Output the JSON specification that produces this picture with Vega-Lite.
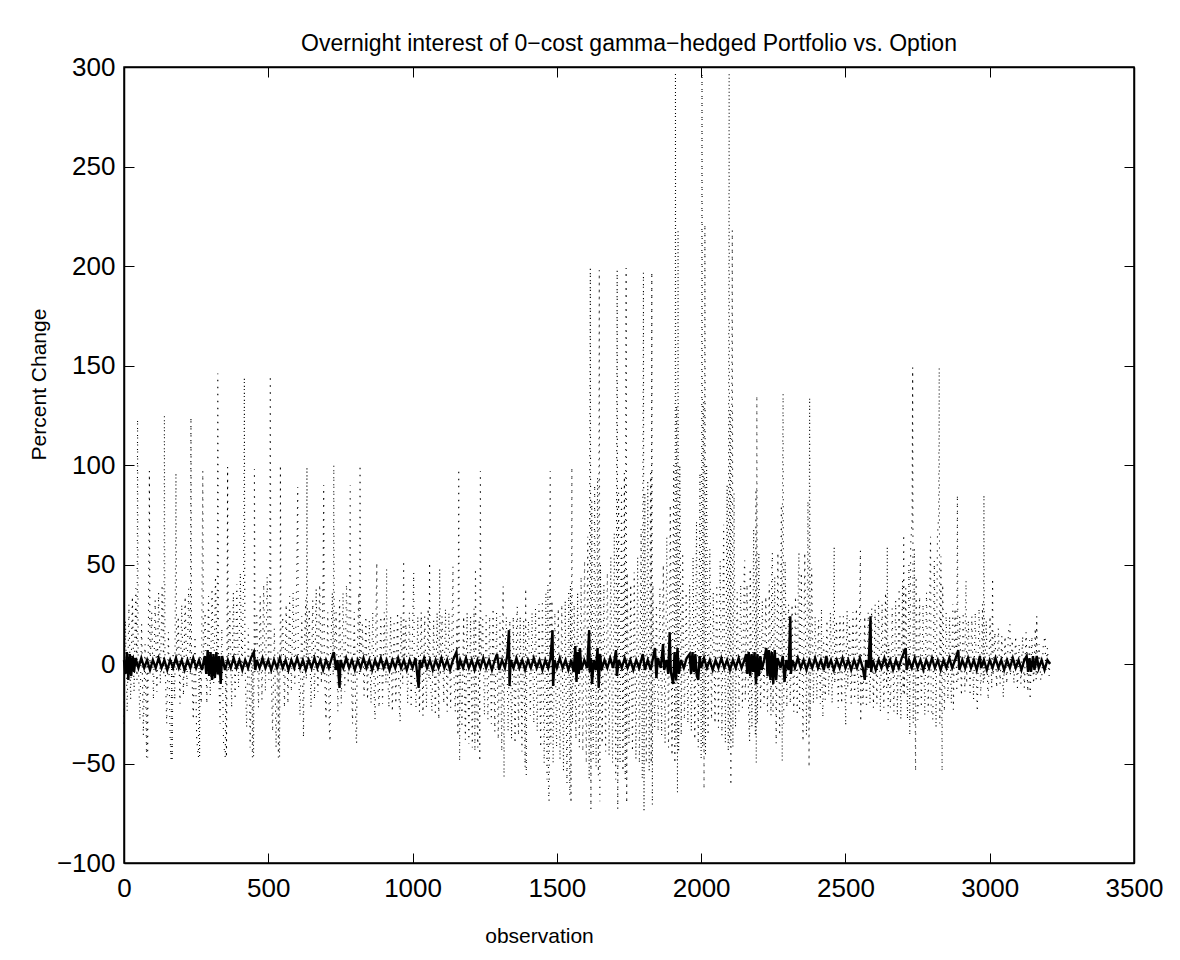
{
"$schema":"https://vega.github.io/schema/vega-lite/v6.json",
"width":1010,"height":796,
"autosize":{"type":"none"},
"padding":{"left":124,"top":67,"right":46,"bottom":97},
"background":"white",
"title":{"text":"Overnight interest of 0−cost gamma−hedged Portfolio vs. Option","font":"Liberation Sans","fontSize":23,"fontWeight":"normal","color":"black","offset":-20,"baseline":"alphabetic"},
"config":{"view":{"stroke":"black","strokeWidth":1.5},"font":"Liberation Sans",
"axis":{"domain":true,"domainColor":"black","domainWidth":1.5,"ticks":true,"tickColor":"black","tickWidth":1,"tickSize":-10,"grid":false,"labelFont":"Liberation Sans","labelFontSize":26,"labelColor":"black","labelOverlap":false,"labelFlush":false,"titleFont":"Liberation Sans","titleFontSize":21,"titleFontWeight":"normal","titleColor":"black"}},
"datasets":{
"option":[
{"obs":0,"pct":-30},{"obs":5,"pct":22},{"obs":11,"pct":-24},{"obs":17,"pct":30},{"obs":23,"pct":-18},{"obs":29,"pct":34},{"obs":35,"pct":-14},{"obs":41,"pct":38},{"obs":45,"pct":-8},{"obs":47,"pct":123},{"obs":49,"pct":4},{"obs":55,"pct":-28},{"obs":61,"pct":20},{"obs":67,"pct":-36},{"obs":73,"pct":10},{"obs":78,"pct":-47},{"obs":80,"pct":2},{"obs":82,"pct":-47},{"obs":84,"pct":6},{"obs":88,"pct":97},{"obs":90,"pct":-4},{"obs":96,"pct":26},{"obs":102,"pct":-18},{"obs":108,"pct":32},{"obs":114,"pct":-14},{"obs":120,"pct":36},{"obs":126,"pct":-10},{"obs":132,"pct":40},{"obs":138,"pct":-6},{"obs":140,"pct":125},{"obs":142,"pct":2},{"obs":148,"pct":-30},{"obs":154,"pct":16},{"obs":160,"pct":-38},{"obs":163,"pct":-48},{"obs":165,"pct":3},{"obs":167,"pct":-48},{"obs":170,"pct":6},{"obs":176,"pct":-18},{"obs":180,"pct":96},{"obs":182,"pct":-3},{"obs":188,"pct":24},{"obs":194,"pct":-20},{"obs":200,"pct":30},{"obs":206,"pct":-16},{"obs":212,"pct":34},{"obs":218,"pct":-12},{"obs":224,"pct":38},{"obs":230,"pct":-6},{"obs":232,"pct":124},{"obs":234,"pct":3},{"obs":240,"pct":-28},{"obs":246,"pct":14},{"obs":252,"pct":-38},{"obs":258,"pct":-47},{"obs":260,"pct":2},{"obs":262,"pct":-47},{"obs":264,"pct":5},{"obs":268,"pct":-20},{"obs":273,"pct":97},{"obs":275,"pct":-3},{"obs":281,"pct":26},{"obs":287,"pct":-20},{"obs":293,"pct":34},{"obs":299,"pct":-16},{"obs":305,"pct":38},{"obs":311,"pct":-10},{"obs":317,"pct":44},{"obs":323,"pct":-6},{"obs":325,"pct":146},{"obs":327,"pct":4},{"obs":333,"pct":-30},{"obs":339,"pct":18},{"obs":345,"pct":-40},{"obs":351,"pct":-47},{"obs":353,"pct":3},{"obs":355,"pct":-47},{"obs":357,"pct":6},{"obs":359,"pct":99},{"obs":361,"pct":-4},{"obs":367,"pct":28},{"obs":373,"pct":-22},{"obs":379,"pct":36},{"obs":385,"pct":-18},{"obs":391,"pct":40},{"obs":397,"pct":-12},{"obs":403,"pct":46},{"obs":409,"pct":-6},{"obs":415,"pct":50},{"obs":417,"pct":144},{"obs":419,"pct":3},{"obs":425,"pct":-32},{"obs":431,"pct":18},{"obs":437,"pct":-42},{"obs":443,"pct":8},{"obs":445,"pct":-47},{"obs":447,"pct":2},{"obs":449,"pct":-47},{"obs":451,"pct":5},{"obs":452,"pct":98},{"obs":454,"pct":-4},{"obs":460,"pct":26},{"obs":466,"pct":-22},{"obs":472,"pct":34},{"obs":478,"pct":-18},{"obs":484,"pct":40},{"obs":490,"pct":-14},{"obs":496,"pct":44},{"obs":502,"pct":-8},{"obs":505,"pct":48},{"obs":507,"pct":145},{"obs":509,"pct":3},{"obs":515,"pct":-34},{"obs":521,"pct":18},{"obs":527,"pct":-42},{"obs":533,"pct":6},{"obs":535,"pct":-47},{"obs":537,"pct":2},{"obs":539,"pct":-47},{"obs":541,"pct":5},{"obs":542,"pct":100},{"obs":544,"pct":-3},
{"obs":550,"pct":24},{"obs":556,"pct":-22},{"obs":562,"pct":30},{"obs":568,"pct":-20},{"obs":574,"pct":34},{"obs":580,"pct":-14},{"obs":586,"pct":36},{"obs":592,"pct":-10},{"obs":598,"pct":40},{"obs":602,"pct":89},{"obs":604,"pct":2},{"obs":610,"pct":-26},{"obs":616,"pct":24},{"obs":622,"pct":-37},{"obs":624,"pct":4},{"obs":630,"pct":32},{"obs":632,"pct":-8},{"obs":634,"pct":99},{"obs":636,"pct":-3},{"obs":642,"pct":28},{"obs":648,"pct":-22},{"obs":654,"pct":32},{"obs":660,"pct":-18},{"obs":666,"pct":38},{"obs":672,"pct":-14},{"obs":678,"pct":40},{"obs":684,"pct":-10},{"obs":690,"pct":44},{"obs":692,"pct":90},{"obs":694,"pct":3},{"obs":700,"pct":-28},{"obs":706,"pct":26},{"obs":712,"pct":-34},{"obs":714,"pct":-39},{"obs":716,"pct":5},{"obs":722,"pct":36},{"obs":725,"pct":-6},{"obs":727,"pct":100},{"obs":729,"pct":-4},{"obs":735,"pct":26},{"obs":741,"pct":-24},{"obs":747,"pct":32},{"obs":753,"pct":-20},{"obs":759,"pct":36},{"obs":765,"pct":-14},{"obs":771,"pct":40},{"obs":777,"pct":-10},{"obs":782,"pct":44},{"obs":784,"pct":90},{"obs":786,"pct":2},{"obs":792,"pct":-30},{"obs":798,"pct":26},{"obs":804,"pct":-36},{"obs":806,"pct":-40},{"obs":808,"pct":4},{"obs":814,"pct":36},{"obs":816,"pct":-6},{"obs":818,"pct":100},{"obs":820,"pct":-4},
{"obs":826,"pct":20},{"obs":832,"pct":-16},{"obs":838,"pct":24},{"obs":844,"pct":-18},{"obs":850,"pct":22},{"obs":856,"pct":-20},{"obs":862,"pct":26},{"obs":868,"pct":-22},{"obs":870,"pct":-28},{"obs":872,"pct":6},{"obs":874,"pct":30},{"obs":876,"pct":51},{"obs":878,"pct":-5},{"obs":884,"pct":-22},{"obs":890,"pct":24},{"obs":896,"pct":-20},{"obs":902,"pct":26},{"obs":908,"pct":-10},{"obs":910,"pct":48},{"obs":912,"pct":2},{"obs":918,"pct":-22},{"obs":924,"pct":24},{"obs":930,"pct":-24},{"obs":936,"pct":22},{"obs":942,"pct":-20},{"obs":948,"pct":26},{"obs":954,"pct":-22},{"obs":957,"pct":-29},{"obs":960,"pct":24},{"obs":966,"pct":-10},{"obs":969,"pct":52},{"obs":971,"pct":-4},{"obs":977,"pct":22},{"obs":983,"pct":-20},{"obs":989,"pct":26},{"obs":995,"pct":-22},{"obs":1001,"pct":24},{"obs":1004,"pct":46},{"obs":1006,"pct":-3},{"obs":1012,"pct":-22},{"obs":1018,"pct":24},{"obs":1024,"pct":-24},{"obs":1030,"pct":26},{"obs":1036,"pct":-26},{"obs":1042,"pct":24},{"obs":1048,"pct":-22},{"obs":1054,"pct":28},{"obs":1057,"pct":-8},{"obs":1059,"pct":51},{"obs":1061,"pct":-5},{"obs":1067,"pct":-24},{"obs":1073,"pct":22},{"obs":1079,"pct":-26},{"obs":1085,"pct":26},{"obs":1091,"pct":-28},{"obs":1094,"pct":48},{"obs":1096,"pct":-6},{"obs":1102,"pct":24},{"obs":1108,"pct":-20},{"obs":1114,"pct":28},{"obs":1120,"pct":-24},{"obs":1126,"pct":26},{"obs":1132,"pct":-22},{"obs":1138,"pct":30},{"obs":1140,"pct":49},{"obs":1142,"pct":0},
{"obs":1148,"pct":-24},{"obs":1154,"pct":22},{"obs":1157,"pct":-36},{"obs":1160,"pct":98},{"obs":1162,"pct":4},{"obs":1163,"pct":-49},{"obs":1165,"pct":2},{"obs":1171,"pct":-32},{"obs":1177,"pct":24},{"obs":1183,"pct":-38},{"obs":1189,"pct":26},{"obs":1195,"pct":-40},{"obs":1201,"pct":24},{"obs":1207,"pct":-42},{"obs":1213,"pct":28},{"obs":1216,"pct":-44},{"obs":1218,"pct":48},{"obs":1220,"pct":-5},{"obs":1226,"pct":-42},{"obs":1231,"pct":22},{"obs":1233,"pct":-49},{"obs":1235,"pct":97},{"obs":1237,"pct":-2},{"obs":1243,"pct":24},{"obs":1249,"pct":-26},{"obs":1255,"pct":26},{"obs":1261,"pct":-28},{"obs":1267,"pct":24},{"obs":1273,"pct":-30},{"obs":1279,"pct":28},{"obs":1285,"pct":-34},{"obs":1291,"pct":26},{"obs":1297,"pct":-38},{"obs":1303,"pct":24},{"obs":1309,"pct":-44},{"obs":1312,"pct":20},{"obs":1314,"pct":39},{"obs":1317,"pct":-57},{"obs":1319,"pct":2},{"obs":1325,"pct":24},{"obs":1331,"pct":-34},{"obs":1337,"pct":22},{"obs":1343,"pct":-38},{"obs":1349,"pct":24},{"obs":1355,"pct":-40},{"obs":1361,"pct":22},{"obs":1363,"pct":29},{"obs":1367,"pct":-36},{"obs":1373,"pct":24},{"obs":1379,"pct":-44},{"obs":1385,"pct":22},{"obs":1390,"pct":-52},{"obs":1392,"pct":38},{"obs":1394,"pct":-56},{"obs":1396,"pct":3},
{"obs":1402,"pct":22},{"obs":1408,"pct":-26},{"obs":1414,"pct":26},{"obs":1420,"pct":-30},{"obs":1426,"pct":28},{"obs":1432,"pct":-34},{"obs":1438,"pct":30},{"obs":1444,"pct":-42},{"obs":1450,"pct":32},{"obs":1456,"pct":-50},{"obs":1462,"pct":36},{"obs":1466,"pct":-58},{"obs":1469,"pct":40},{"obs":1471,"pct":-64},{"obs":1473,"pct":-69},{"obs":1475,"pct":20},{"obs":1477,"pct":97},{"obs":1479,"pct":-40},{"obs":1483,"pct":32},{"obs":1487,"pct":-50},{"obs":1493,"pct":26},{"obs":1499,"pct":-42},{"obs":1505,"pct":28},{"obs":1511,"pct":-48},{"obs":1517,"pct":30},{"obs":1523,"pct":-54},{"obs":1529,"pct":32},{"obs":1535,"pct":-60},{"obs":1541,"pct":36},{"obs":1545,"pct":-66},{"obs":1547,"pct":40},{"obs":1549,"pct":-70},{"obs":1552,"pct":99},{"obs":1554,"pct":-30},
{"obs":1560,"pct":30},{"obs":1566,"pct":-38},{"obs":1572,"pct":36},{"obs":1578,"pct":-42},{"obs":1584,"pct":44},{"obs":1590,"pct":-44},{"obs":1596,"pct":52},{"obs":1602,"pct":-50},{"obs":1607,"pct":64},{"obs":1612,"pct":-58},{"obs":1614,"pct":76},{"obs":1616,"pct":199},{"obs":1618,"pct":-73},{"obs":1621,"pct":82},{"obs":1626,"pct":-48},{"obs":1631,"pct":90},{"obs":1636,"pct":-52},{"obs":1641,"pct":94},{"obs":1644,"pct":-56},{"obs":1647,"pct":198},{"obs":1649,"pct":-69},{"obs":1651,"pct":50},{"obs":1657,"pct":-40},{"obs":1663,"pct":40},{"obs":1669,"pct":-44},{"obs":1675,"pct":46},{"obs":1681,"pct":-46},{"obs":1687,"pct":54},{"obs":1693,"pct":-50},{"obs":1699,"pct":66},{"obs":1704,"pct":-58},{"obs":1707,"pct":78},{"obs":1709,"pct":198},{"obs":1711,"pct":-73},{"obs":1714,"pct":86},{"obs":1719,"pct":-50},{"obs":1724,"pct":90},{"obs":1729,"pct":-54},{"obs":1734,"pct":96},{"obs":1737,"pct":-58},{"obs":1740,"pct":199},{"obs":1742,"pct":-70},{"obs":1744,"pct":46},{"obs":1750,"pct":-40},{"obs":1756,"pct":40},{"obs":1762,"pct":-44},{"obs":1768,"pct":46},{"obs":1774,"pct":-48},{"obs":1780,"pct":54},{"obs":1786,"pct":-50},{"obs":1792,"pct":68},{"obs":1796,"pct":-58},{"obs":1798,"pct":80},{"obs":1800,"pct":197},{"obs":1802,"pct":-74},{"obs":1805,"pct":86},{"obs":1810,"pct":-50},{"obs":1815,"pct":92},{"obs":1820,"pct":-54},{"obs":1825,"pct":96},{"obs":1827,"pct":-50},{"obs":1829,"pct":197},{"obs":1831,"pct":-71},{"obs":1833,"pct":40},
{"obs":1839,"pct":-32},{"obs":1845,"pct":30},{"obs":1851,"pct":-34},{"obs":1857,"pct":38},{"obs":1863,"pct":-36},{"obs":1869,"pct":50},{"obs":1875,"pct":-40},{"obs":1881,"pct":64},{"obs":1887,"pct":-42},{"obs":1893,"pct":80},{"obs":1899,"pct":-46},{"obs":1905,"pct":100},{"obs":1909,"pct":-50},{"obs":1910,"pct":120},{"obs":1911,"pct":297},{"obs":1913,"pct":-40},{"obs":1915,"pct":130},{"obs":1918,"pct":-65},{"obs":1920,"pct":218},{"obs":1922,"pct":-44},{"obs":1926,"pct":100},{"obs":1931,"pct":-36},{"obs":1936,"pct":56},{"obs":1942,"pct":-28},{"obs":1948,"pct":36},{"obs":1954,"pct":-30},{"obs":1960,"pct":40},{"obs":1966,"pct":-34},{"obs":1972,"pct":54},{"obs":1978,"pct":-38},{"obs":1984,"pct":72},{"obs":1990,"pct":-42},{"obs":1996,"pct":96},{"obs":2000,"pct":-48},{"obs":2002,"pct":120},{"obs":2003,"pct":297},{"obs":2005,"pct":-42},{"obs":2008,"pct":132},{"obs":2010,"pct":-63},{"obs":2013,"pct":221},{"obs":2015,"pct":-46},{"obs":2019,"pct":100},{"obs":2024,"pct":-36},{"obs":2030,"pct":58},{"obs":2036,"pct":-28},{"obs":2042,"pct":36},{"obs":2048,"pct":-30},{"obs":2054,"pct":40},{"obs":2060,"pct":-32},{"obs":2066,"pct":52},{"obs":2072,"pct":-36},{"obs":2078,"pct":70},{"obs":2084,"pct":-40},{"obs":2090,"pct":90},{"obs":2094,"pct":-44},{"obs":2095,"pct":110},{"obs":2097,"pct":297},{"obs":2099,"pct":-40},{"obs":2101,"pct":128},{"obs":2103,"pct":-61},{"obs":2106,"pct":120},{"obs":2108,"pct":218},{"obs":2110,"pct":-42},{"obs":2114,"pct":86},{"obs":2119,"pct":-32},
{"obs":2125,"pct":36},{"obs":2131,"pct":-24},{"obs":2137,"pct":40},{"obs":2143,"pct":-22},{"obs":2149,"pct":46},{"obs":2151,"pct":52},{"obs":2153,"pct":-18},{"obs":2159,"pct":40},{"obs":2165,"pct":-28},{"obs":2168,"pct":-39},{"obs":2170,"pct":48},{"obs":2176,"pct":-32},{"obs":2182,"pct":68},{"obs":2188,"pct":-36},{"obs":2190,"pct":88},{"obs":2191,"pct":-50},{"obs":2193,"pct":135},{"obs":2195,"pct":-30},{"obs":2200,"pct":56},{"obs":2206,"pct":-22},{"obs":2212,"pct":32},{"obs":2218,"pct":-20},{"obs":2224,"pct":34},{"obs":2230,"pct":-24},{"obs":2236,"pct":40},{"obs":2242,"pct":-26},{"obs":2245,"pct":48},{"obs":2247,"pct":56},{"obs":2249,"pct":-24},{"obs":2255,"pct":44},{"obs":2260,"pct":-40},{"obs":2266,"pct":56},{"obs":2272,"pct":-36},{"obs":2278,"pct":80},{"obs":2281,"pct":-49},{"obs":2282,"pct":96},{"obs":2284,"pct":136},{"obs":2286,"pct":-30},{"obs":2291,"pct":52},{"obs":2297,"pct":-22},{"obs":2303,"pct":30},{"obs":2309,"pct":-20},{"obs":2315,"pct":30},{"obs":2321,"pct":-24},{"obs":2327,"pct":34},{"obs":2333,"pct":-26},{"obs":2337,"pct":46},{"obs":2339,"pct":56},{"obs":2341,"pct":-24},{"obs":2347,"pct":46},{"obs":2353,"pct":-39},{"obs":2359,"pct":56},{"obs":2365,"pct":-36},{"obs":2370,"pct":82},{"obs":2374,"pct":-52},{"obs":2375,"pct":96},{"obs":2376,"pct":134},{"obs":2378,"pct":-28},{"obs":2383,"pct":48},{"obs":2389,"pct":-20},{"obs":2395,"pct":24},{"obs":2401,"pct":-18},{"obs":2407,"pct":22},{"obs":2413,"pct":-20},{"obs":2417,"pct":28},{"obs":2419,"pct":-12},{"obs":2422,"pct":-27},{"obs":2424,"pct":14},
{"obs":2430,"pct":-18},{"obs":2436,"pct":22},{"obs":2442,"pct":-16},{"obs":2448,"pct":26},{"obs":2454,"pct":-20},{"obs":2459,"pct":32},{"obs":2461,"pct":59},{"obs":2463,"pct":-10},{"obs":2469,"pct":22},{"obs":2475,"pct":-22},{"obs":2481,"pct":24},{"obs":2487,"pct":-20},{"obs":2493,"pct":24},{"obs":2499,"pct":-18},{"obs":2501,"pct":-31},{"obs":2503,"pct":8},{"obs":2506,"pct":27},{"obs":2508,"pct":-12},{"obs":2514,"pct":22},{"obs":2520,"pct":-20},{"obs":2526,"pct":26},{"obs":2532,"pct":-18},{"obs":2538,"pct":28},{"obs":2544,"pct":-20},{"obs":2550,"pct":32},{"obs":2552,"pct":57},{"obs":2553,"pct":-29},{"obs":2555,"pct":6},{"obs":2561,"pct":-20},{"obs":2567,"pct":24},{"obs":2573,"pct":-22},{"obs":2579,"pct":26},{"obs":2585,"pct":-20},{"obs":2591,"pct":28},{"obs":2597,"pct":-22},{"obs":2603,"pct":30},{"obs":2609,"pct":-20},{"obs":2615,"pct":32},{"obs":2621,"pct":-24},{"obs":2627,"pct":30},{"obs":2633,"pct":-22},{"obs":2639,"pct":36},{"obs":2643,"pct":-12},{"obs":2645,"pct":59},{"obs":2648,"pct":-28},{"obs":2650,"pct":10},{"obs":2656,"pct":-22},{"obs":2662,"pct":28},{"obs":2668,"pct":-24},{"obs":2674,"pct":32},{"obs":2680,"pct":-26},{"obs":2686,"pct":38},{"obs":2692,"pct":-28},{"obs":2698,"pct":42},{"obs":2700,"pct":-14},{"obs":2702,"pct":65},{"obs":2704,"pct":-16},
{"obs":2709,"pct":38},{"obs":2715,"pct":-28},{"obs":2720,"pct":50},{"obs":2723,"pct":-36},{"obs":2726,"pct":60},{"obs":2731,"pct":72},{"obs":2733,"pct":149},{"obs":2735,"pct":-30},{"obs":2739,"pct":58},{"obs":2743,"pct":-54},{"obs":2745,"pct":44},{"obs":2751,"pct":-28},{"obs":2757,"pct":34},{"obs":2763,"pct":-22},{"obs":2769,"pct":30},{"obs":2775,"pct":-26},{"obs":2781,"pct":36},{"obs":2787,"pct":-24},{"obs":2793,"pct":46},{"obs":2795,"pct":64},{"obs":2797,"pct":-22},{"obs":2803,"pct":-28},{"obs":2808,"pct":52},{"obs":2814,"pct":-32},{"obs":2819,"pct":64},{"obs":2823,"pct":74},{"obs":2825,"pct":149},{"obs":2827,"pct":-30},{"obs":2831,"pct":54},{"obs":2835,"pct":-54},{"obs":2837,"pct":40},{"obs":2843,"pct":-24},{"obs":2849,"pct":26},
{"obs":2855,"pct":-18},{"obs":2861,"pct":24},{"obs":2867,"pct":-20},{"obs":2872,"pct":30},{"obs":2874,"pct":-23},{"obs":2880,"pct":28},{"obs":2886,"pct":-14},{"obs":2888,"pct":85},{"obs":2890,"pct":-8},{"obs":2896,"pct":24},{"obs":2902,"pct":-16},{"obs":2908,"pct":26},{"obs":2914,"pct":-14},{"obs":2916,"pct":30},{"obs":2918,"pct":42},{"obs":2920,"pct":-10},{"obs":2926,"pct":22},{"obs":2932,"pct":-16},{"obs":2938,"pct":24},{"obs":2944,"pct":-18},{"obs":2950,"pct":26},{"obs":2955,"pct":-16},{"obs":2957,"pct":-24},{"obs":2963,"pct":28},{"obs":2969,"pct":-16},{"obs":2975,"pct":30},{"obs":2978,"pct":-10},{"obs":2980,"pct":85},{"obs":2982,"pct":-8},{"obs":2988,"pct":22},{"obs":2993,"pct":-12},{"obs":2995,"pct":-18},{"obs":3001,"pct":24},{"obs":3007,"pct":-12},{"obs":3010,"pct":43},{"obs":3012,"pct":-6},{"obs":3018,"pct":16},{"obs":3024,"pct":-12},{"obs":3030,"pct":18},{"obs":3036,"pct":-10},{"obs":3042,"pct":14},{"obs":3047,"pct":-17},{"obs":3053,"pct":14},{"obs":3059,"pct":-10},{"obs":3065,"pct":16},{"obs":3070,"pct":20},{"obs":3072,"pct":-6},{"obs":3078,"pct":12},{"obs":3084,"pct":-10},{"obs":3090,"pct":14},{"obs":3096,"pct":-12},{"obs":3102,"pct":10},{"obs":3108,"pct":-10},{"obs":3114,"pct":14},{"obs":3120,"pct":-12},{"obs":3126,"pct":16},{"obs":3132,"pct":-14},{"obs":3138,"pct":12},{"obs":3140,"pct":-18},{"obs":3146,"pct":14},{"obs":3152,"pct":-10},{"obs":3158,"pct":18},{"obs":3161,"pct":-8},{"obs":3163,"pct":24},{"obs":3165,"pct":-6},{"obs":3171,"pct":10},{"obs":3177,"pct":-8},{"obs":3180,"pct":-8},{"obs":3186,"pct":10},{"obs":3192,"pct":14},{"obs":3194,"pct":-4},{"obs":3200,"pct":8},{"obs":3206,"pct":-6},{"obs":3209,"pct":2}
],
"portfolio":[
{"obs":0,"pct":2},{"obs":5,"pct":-5},{"obs":10,"pct":6},{"obs":15,"pct":-8},{"obs":20,"pct":5},{"obs":25,"pct":-6},{"obs":30,"pct":4},{"obs":35,"pct":-4},{"obs":40,"pct":3},{"obs":50,"pct":-2},{"obs":60,"pct":3},{"obs":70,"pct":-2},{"obs":80,"pct":2},{"obs":90,"pct":-3},{"obs":100,"pct":2},{"obs":110,"pct":-2},{"obs":120,"pct":3},{"obs":130,"pct":-2},{"obs":140,"pct":2},{"obs":150,"pct":-3},{"obs":160,"pct":2},{"obs":170,"pct":-2},{"obs":180,"pct":3},{"obs":190,"pct":-2},{"obs":200,"pct":2},{"obs":210,"pct":-3},{"obs":220,"pct":2},{"obs":230,"pct":-2},{"obs":240,"pct":3},{"obs":250,"pct":-2},{"obs":260,"pct":2},{"obs":270,"pct":-3},{"obs":280,"pct":4},{"obs":285,"pct":-5},{"obs":290,"pct":7},{"obs":295,"pct":-6},{"obs":300,"pct":6},{"obs":305,"pct":-8},{"obs":310,"pct":5},{"obs":315,"pct":-7},{"obs":320,"pct":6},{"obs":325,"pct":-5},{"obs":330,"pct":4},{"obs":335,"pct":-10},{"obs":340,"pct":4},{"obs":350,"pct":-3},{"obs":360,"pct":2},{"obs":370,"pct":-2},{"obs":380,"pct":3},{"obs":390,"pct":-2},{"obs":400,"pct":2},{"obs":410,"pct":-3},{"obs":420,"pct":2},{"obs":430,"pct":-2},{"obs":440,"pct":3},{"obs":450,"pct":6},{"obs":455,"pct":-3},{"obs":460,"pct":2},{"obs":470,"pct":-2},{"obs":480,"pct":3},{"obs":490,"pct":-2},{"obs":500,"pct":2},{"obs":510,"pct":-3},{"obs":520,"pct":2},{"obs":530,"pct":-2},{"obs":540,"pct":3},{"obs":550,"pct":-2},{"obs":560,"pct":2},{"obs":570,"pct":-3},{"obs":580,"pct":2},{"obs":590,"pct":-2},{"obs":600,"pct":3},{"obs":610,"pct":-2},{"obs":620,"pct":2},{"obs":630,"pct":-3},{"obs":640,"pct":2},{"obs":650,"pct":-2},{"obs":660,"pct":3},{"obs":670,"pct":-2},{"obs":680,"pct":2},{"obs":690,"pct":-3},{"obs":700,"pct":2},{"obs":710,"pct":-2},{"obs":720,"pct":3},{"obs":727,"pct":6},{"obs":735,"pct":-3},{"obs":740,"pct":2},{"obs":747,"pct":-12},{"obs":750,"pct":2},{"obs":760,"pct":-2},{"obs":770,"pct":3},{"obs":780,"pct":-2},{"obs":790,"pct":2},{"obs":800,"pct":-3},{"obs":810,"pct":2},{"obs":820,"pct":-2},{"obs":830,"pct":3},{"obs":840,"pct":-2},{"obs":850,"pct":2},{"obs":860,"pct":-3},{"obs":870,"pct":2},{"obs":880,"pct":-2},{"obs":890,"pct":3},{"obs":900,"pct":-2},{"obs":910,"pct":2},{"obs":920,"pct":-3},{"obs":930,"pct":2},{"obs":940,"pct":-2},{"obs":950,"pct":3},{"obs":960,"pct":-2},{"obs":970,"pct":2},{"obs":980,"pct":-3},{"obs":990,"pct":2},{"obs":1000,"pct":-2},{"obs":1010,"pct":3},{"obs":1021,"pct":-12},{"obs":1025,"pct":2},{"obs":1030,"pct":-2},{"obs":1040,"pct":3},{"obs":1050,"pct":-2},{"obs":1060,"pct":2},{"obs":1070,"pct":-3},{"obs":1080,"pct":2},{"obs":1090,"pct":-2},{"obs":1100,"pct":3},{"obs":1110,"pct":-2},{"obs":1120,"pct":2},{"obs":1130,"pct":-3},{"obs":1140,"pct":2},{"obs":1152,"pct":6},{"obs":1158,"pct":-3},{"obs":1165,"pct":2},{"obs":1175,"pct":-2},{"obs":1185,"pct":3},{"obs":1195,"pct":-2},{"obs":1205,"pct":2},{"obs":1215,"pct":-3},{"obs":1225,"pct":2},{"obs":1235,"pct":-2},{"obs":1245,"pct":3},{"obs":1255,"pct":-2},{"obs":1265,"pct":2},{"obs":1275,"pct":-3},{"obs":1285,"pct":2},{"obs":1293,"pct":5},{"obs":1300,"pct":-3},{"obs":1310,"pct":2},{"obs":1320,"pct":-2},{"obs":1328,"pct":4},{"obs":1334,"pct":17},{"obs":1336,"pct":-11},{"obs":1340,"pct":2},{"obs":1350,"pct":-2},{"obs":1360,"pct":3},{"obs":1370,"pct":-2},{"obs":1380,"pct":2},{"obs":1390,"pct":-3},{"obs":1400,"pct":2},{"obs":1410,"pct":-2},{"obs":1420,"pct":3},{"obs":1430,"pct":-2},{"obs":1440,"pct":2},{"obs":1450,"pct":-3},{"obs":1460,"pct":2},{"obs":1470,"pct":-2},{"obs":1478,"pct":3},{"obs":1485,"pct":17},{"obs":1487,"pct":-11},{"obs":1492,"pct":2},{"obs":1500,"pct":-2},{"obs":1510,"pct":3},{"obs":1520,"pct":-2},{"obs":1530,"pct":2},{"obs":1540,"pct":-3},{"obs":1550,"pct":2},{"obs":1558,"pct":-4},{"obs":1564,"pct":9},{"obs":1568,"pct":-9},{"obs":1572,"pct":6},{"obs":1576,"pct":-5},{"obs":1580,"pct":8},{"obs":1585,"pct":-3},{"obs":1595,"pct":2},{"obs":1605,"pct":-2},{"obs":1612,"pct":17},{"obs":1614,"pct":-4},{"obs":1618,"pct":3},{"obs":1622,"pct":-10},{"obs":1628,"pct":2},{"obs":1635,"pct":-3},{"obs":1641,"pct":8},{"obs":1645,"pct":-12},{"obs":1650,"pct":5},{"obs":1655,"pct":-3},{"obs":1665,"pct":2},{"obs":1675,"pct":-2},{"obs":1685,"pct":3},{"obs":1695,"pct":-2},{"obs":1705,"pct":7},{"obs":1708,"pct":-6},{"obs":1715,"pct":2},{"obs":1725,"pct":-2},{"obs":1735,"pct":3},{"obs":1745,"pct":-2},{"obs":1755,"pct":2},{"obs":1765,"pct":-3},{"obs":1775,"pct":2},{"obs":1785,"pct":-2},{"obs":1798,"pct":5},{"obs":1805,"pct":-3},{"obs":1815,"pct":2},{"obs":1825,"pct":-3},{"obs":1840,"pct":8},{"obs":1845,"pct":-7},{"obs":1850,"pct":3},{"obs":1860,"pct":-2},{"obs":1868,"pct":10},{"obs":1872,"pct":-3},{"obs":1880,"pct":2},{"obs":1886,"pct":-5},{"obs":1891,"pct":16},{"obs":1895,"pct":-4},{"obs":1903,"pct":-10},{"obs":1908,"pct":6},{"obs":1913,"pct":-8},{"obs":1918,"pct":8},{"obs":1923,"pct":-5},{"obs":1930,"pct":2},{"obs":1940,"pct":-2},{"obs":1950,"pct":3},{"obs":1960,"pct":5},{"obs":1965,"pct":-5},{"obs":1970,"pct":6},{"obs":1975,"pct":-4},{"obs":1980,"pct":5},{"obs":1985,"pct":-6},{"obs":1990,"pct":-8},{"obs":1995,"pct":4},{"obs":2000,"pct":-2},{"obs":2010,"pct":3},{"obs":2020,"pct":-2},{"obs":2030,"pct":2},{"obs":2040,"pct":-3},{"obs":2050,"pct":2},{"obs":2060,"pct":-2},{"obs":2070,"pct":3},{"obs":2080,"pct":-2},{"obs":2090,"pct":2},{"obs":2100,"pct":-3},{"obs":2110,"pct":2},{"obs":2120,"pct":-2},{"obs":2130,"pct":3},{"obs":2140,"pct":-2},{"obs":2150,"pct":2},{"obs":2156,"pct":5},{"obs":2160,"pct":-5},{"obs":2165,"pct":6},{"obs":2170,"pct":-6},{"obs":2175,"pct":5},{"obs":2180,"pct":-4},{"obs":2185,"pct":6},{"obs":2190,"pct":-10},{"obs":2195,"pct":5},{"obs":2200,"pct":-6},{"obs":2205,"pct":4},{"obs":2210,"pct":-3},{"obs":2218,"pct":2},{"obs":2226,"pct":8},{"obs":2230,"pct":-6},{"obs":2235,"pct":7},{"obs":2240,"pct":-8},{"obs":2245,"pct":6},{"obs":2250,"pct":-10},{"obs":2255,"pct":7},{"obs":2260,"pct":-8},{"obs":2265,"pct":3},{"obs":2275,"pct":-2},{"obs":2283,"pct":4},{"obs":2289,"pct":-9},{"obs":2295,"pct":2},{"obs":2303,"pct":-3},{"obs":2309,"pct":24},{"obs":2311,"pct":-5},{"obs":2316,"pct":2},{"obs":2325,"pct":-2},{"obs":2335,"pct":3},{"obs":2345,"pct":-2},{"obs":2355,"pct":2},{"obs":2365,"pct":-3},{"obs":2375,"pct":2},{"obs":2385,"pct":-2},{"obs":2395,"pct":3},{"obs":2405,"pct":-2},{"obs":2415,"pct":2},{"obs":2425,"pct":-3},{"obs":2434,"pct":4},{"obs":2440,"pct":-2},{"obs":2450,"pct":2},{"obs":2460,"pct":-3},{"obs":2470,"pct":2},{"obs":2480,"pct":-2},{"obs":2490,"pct":3},{"obs":2500,"pct":-2},{"obs":2510,"pct":2},{"obs":2520,"pct":-3},{"obs":2530,"pct":2},{"obs":2540,"pct":-2},{"obs":2550,"pct":3},{"obs":2560,"pct":-2},{"obs":2567,"pct":-8},{"obs":2572,"pct":2},{"obs":2580,"pct":-2},{"obs":2587,"pct":24},{"obs":2589,"pct":-4},{"obs":2595,"pct":2},{"obs":2605,"pct":-3},{"obs":2615,"pct":2},{"obs":2625,"pct":-2},{"obs":2635,"pct":3},{"obs":2645,"pct":-2},{"obs":2655,"pct":2},{"obs":2665,"pct":-3},{"obs":2675,"pct":2},{"obs":2685,"pct":-2},{"obs":2695,"pct":3},{"obs":2709,"pct":8},{"obs":2712,"pct":-3},{"obs":2720,"pct":2},{"obs":2730,"pct":-2},{"obs":2740,"pct":3},{"obs":2750,"pct":-2},{"obs":2760,"pct":2},{"obs":2770,"pct":-3},{"obs":2780,"pct":2},{"obs":2790,"pct":-2},{"obs":2800,"pct":3},{"obs":2810,"pct":-2},{"obs":2820,"pct":2},{"obs":2830,"pct":-3},{"obs":2840,"pct":2},{"obs":2850,"pct":-2},{"obs":2860,"pct":3},{"obs":2870,"pct":-2},{"obs":2880,"pct":2},{"obs":2891,"pct":7},{"obs":2895,"pct":-3},{"obs":2905,"pct":2},{"obs":2915,"pct":-2},{"obs":2925,"pct":3},{"obs":2935,"pct":-2},{"obs":2945,"pct":2},{"obs":2955,"pct":-3},{"obs":2966,"pct":4},{"obs":2970,"pct":-2},{"obs":2980,"pct":2},{"obs":2990,"pct":-3},{"obs":3000,"pct":2},{"obs":3010,"pct":-2},{"obs":3020,"pct":3},{"obs":3030,"pct":-2},{"obs":3040,"pct":2},{"obs":3050,"pct":-3},{"obs":3060,"pct":2},{"obs":3070,"pct":-2},{"obs":3080,"pct":3},{"obs":3090,"pct":-2},{"obs":3100,"pct":2},{"obs":3110,"pct":-3},{"obs":3120,"pct":2},{"obs":3128,"pct":4},{"obs":3133,"pct":-4},{"obs":3138,"pct":3},{"obs":3143,"pct":-4},{"obs":3150,"pct":4},{"obs":3155,"pct":-3},{"obs":3163,"pct":4},{"obs":3170,"pct":-2},{"obs":3180,"pct":2},{"obs":3190,"pct":-3},{"obs":3200,"pct":2},{"obs":3209,"pct":0}
]},
"layer":[
{"data":{"name":"option"},
 "mark":{"type":"line","color":"black","strokeWidth":1.1,"strokeDash":[1.1,5.9]},
 "encoding":{
  "x":{"field":"obs","type":"quantitative","scale":{"domain":[0,3500],"nice":false,"zero":false},"axis":{"orient":"bottom","values":[0,500,1000,1500,2000,2500,3000,3500],"format":"d","title":"observation","labelPadding":22,"titleX":415,"titleY":79,"titleAlign":"center","titleBaseline":"alphabetic"}},
  "y":{"field":"pct","type":"quantitative","scale":{"domain":[-100,300],"nice":false,"zero":false},"axis":{"orient":"left","values":[-100,-50,0,50,100,150,200,250,300],"format":"d","title":"Percent Change","labelPadding":19,"titleX":-79,"titleY":317,"titleAlign":"center","titleBaseline":"alphabetic","titleAngle":-90}}}},
{"data":{"name":"portfolio"},
 "mark":{"type":"line","color":"black","strokeWidth":2.4},
 "encoding":{
  "x":{"field":"obs","type":"quantitative","axis":{"orient":"top","values":[0,500,1000,1500,2000,2500,3000,3500],"labels":false,"title":null}},
  "y":{"field":"pct","type":"quantitative","axis":{"orient":"right","values":[-100,-50,0,50,100,150,200,250,300],"labels":false,"title":null}}}}
],
"resolve":{"axis":{"x":"independent","y":"independent"}}
}
